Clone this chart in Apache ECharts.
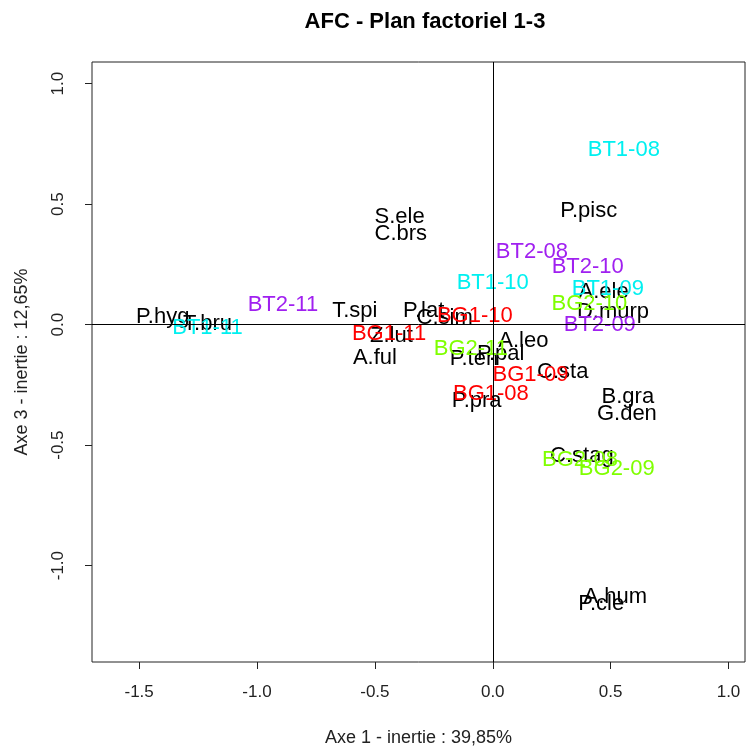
<!DOCTYPE html>
<html>
<head>
<meta charset="utf-8">
<script src="https://cdn.jsdelivr.net/npm/echarts@6/dist/echarts.min.js"></script>
<style>
html,body{margin:0;padding:0;background:#fff;}
#chart{width:746px;height:747px;}
</style>
</head>
<body>
<div id="chart"></div>
<script>
// Species (black labels)
const speciesNames = ["P.hyg","T.bru","T.spi","S.ele","C.brs","P.lat","C.sim","Z.lut","A.ful","A.leo","P.ten","P.pal","C.sta","P.pra","P.pisc","A.ele","D.murp","B.gra","G.den","C.stag","A.hum","P.cle"];
const speciesX = [-1.40,-1.21,-0.585,-0.395,-0.39,-0.293,-0.204,-0.43,-0.50,0.13,-0.08,0.034,0.297,-0.068,0.407,0.47,0.51,0.573,0.569,0.378,0.52,0.46];
const speciesY = [0.033,0.004,0.058,0.448,0.378,0.058,0.029,-0.046,-0.137,-0.066,-0.141,-0.12,-0.195,-0.315,0.473,0.137,0.054,-0.30,-0.37,-0.544,-1.13,-1.16];

// Samples, by group
const bt1Names = ["BT1-08","BT1-09","BT1-10","BT1-11"];
const bt1X = [0.556,0.488,0.0,-1.21];
const bt1Y = [0.726,0.149,0.174,-0.012];

const bt2Names = ["BT2-08","BT2-09","BT2-10","BT2-11"];
const bt2X = [0.166,0.454,0.403,-0.89];
const bt2Y = [0.30,0.0,0.24,0.083];

const bg1Names = ["BG1-08","BG1-09","BG1-10","BG1-11"];
const bg1X = [-0.008,0.16,-0.076,-0.44];
const bg1Y = [-0.286,-0.21,0.037,-0.037];

const bg2Names = ["BG2-08","BG2-09","BG2-10","BG2-11"];
const bg2X = [0.37,0.526,0.41,-0.093];
const bg2Y = [-0.56,-0.598,0.087,-0.10];

const xTicks = [-1.5,-1.0,-0.5,0.0,0.5,1.0];
const yTicks = [-1.0,-0.5,0.0,0.5,1.0];

const FONT = "Liberation Sans, Arial, sans-serif";

function pts(names, xs, ys){
  return names.map((n,i)=>({name:n, value:[xs[i], ys[i]]}));
}
function labelSeries(name, data, color){
  return {
    type:'scatter', name:name, data:data,
    symbolSize: 1,
    itemStyle:{color:'rgba(0,0,0,0)', opacity:1},
    silent:true,
    label:{
      show:true, position:'inside', offset:[0,2],
      formatter: p => p.name,
      color: color, fontSize: 22, fontFamily: FONT, opacity:1
    },
    labelLayout:{hideOverlap:false}
  };
}

const chart = echarts.init(document.getElementById('chart'), null, {renderer:'canvas'});
chart.setOption({
  animation:false,
  backgroundColor:'#ffffff',
  title:{
    text:'AFC - Plan factoriel 1-3',
    left:420, top:6, textAlign:'center',
    textStyle:{fontSize:22, fontWeight:'bold', color:'#000', fontFamily:FONT}
  },
  grid:{left:92, right:1, top:62, bottom:85, show:true, borderColor:'#222', borderWidth:1,
    backgroundColor:'transparent', containLabel:false, outerBoundsMode:'none'},
  xAxis:{
    type:'value', min:-1.70, max:1.07,
    name:'Axe 1 - inertie : 39,85%', nameLocation:'middle', nameGap:67,
    nameTextStyle:{fontSize:18, color:'#222', fontFamily:FONT},
    axisLine:{show:false, onZero:false},
    splitLine:{show:false},
    axisTick:{show:true, inside:false, length:7, customValues:xTicks, lineStyle:{color:'#222'}},
    axisLabel:{show:true, margin:22, fontSize:17, color:'#222', fontFamily:FONT, customValues:xTicks,
      formatter: v => v.toFixed(1)}
  },
  yAxis:{
    type:'value', min:-1.40, max:1.09,
    name:'Axe 3 - inertie : 12,65%', nameLocation:'middle', nameGap:61, nameRotate:90,
    nameTextStyle:{fontSize:18, color:'#222', fontFamily:FONT},
    axisLine:{show:false, onZero:false},
    splitLine:{show:false},
    axisTick:{show:true, inside:false, length:7, customValues:yTicks, lineStyle:{color:'#222'}},
    axisLabel:{show:true, margin:25, rotate:90, fontSize:17, color:'#222', fontFamily:FONT, customValues:yTicks,
      formatter: v => v.toFixed(1)}
  },
  series:[
    {
      type:'scatter', data:[], silent:true,
      markLine:{
        silent:true, symbol:['none','none'],
        label:{show:false},
        lineStyle:{color:'#000', width:1, type:'solid', opacity:1},
        data:[{xAxis:0},{yAxis:0}]
      }
    },
    labelSeries('species', pts(speciesNames, speciesX, speciesY), '#000000'),
    labelSeries('BT1', pts(bt1Names, bt1X, bt1Y), '#00F0F0'),
    labelSeries('BT2', pts(bt2Names, bt2X, bt2Y), '#A020F0'),
    labelSeries('BG1', pts(bg1Names, bg1X, bg1Y), '#FF0000'),
    labelSeries('BG2', pts(bg2Names, bg2X, bg2Y), '#7FFF00')
  ]
});
</script>
</body>
</html>
